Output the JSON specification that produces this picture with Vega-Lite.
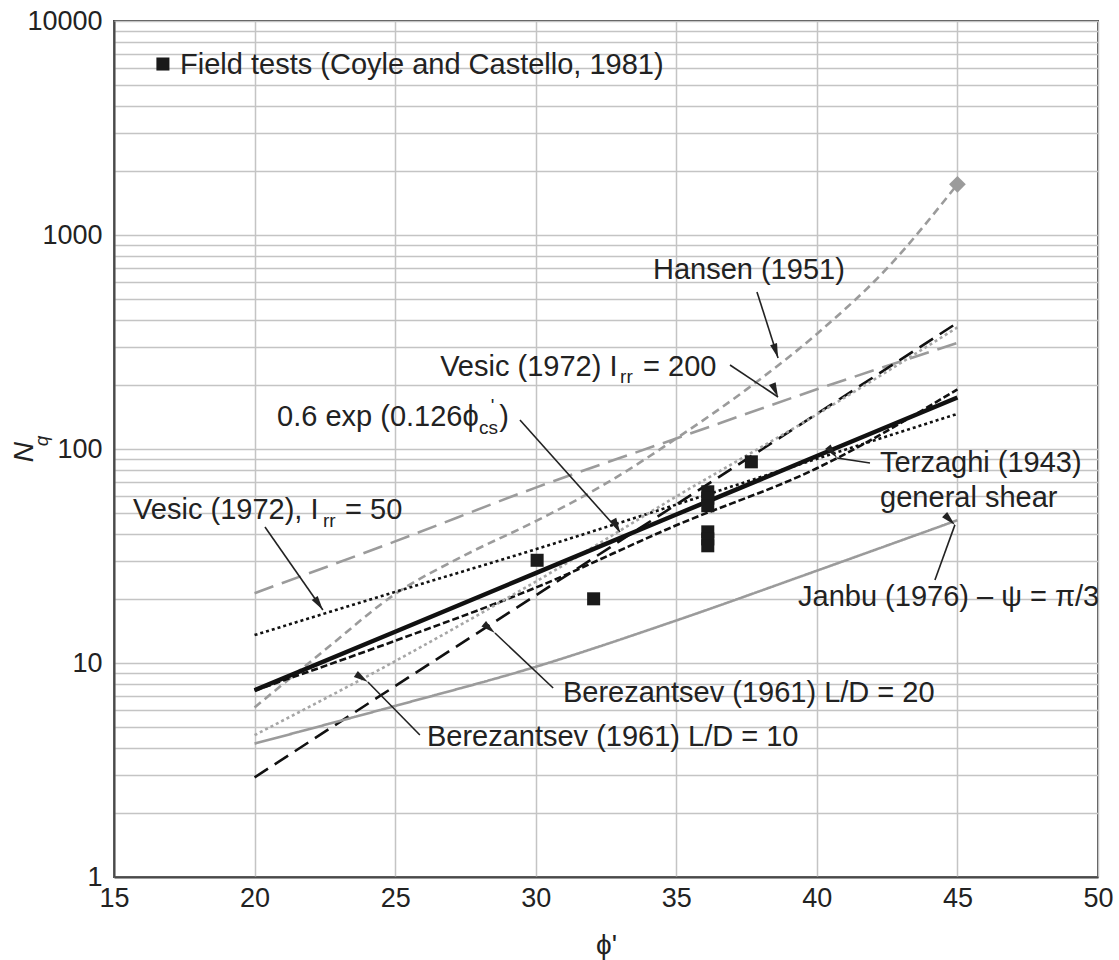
{
  "$schema": "https://vega.github.io/schema/vega-lite/v6.json",
  "width": 984,
  "height": 856,
  "autosize": {"type": "none"},
  "padding": {"left": 114, "top": 21, "right": 21, "bottom": 83},
  "background": "white",
  "config": {
    "view": {"stroke": "#4a4a4a", "strokeWidth": 2},
    "font": "Liberation Sans",
    "text": {"font": "Liberation Sans", "color": "#222222"}
  },
  "datasets": {
    "curves": [
      {"s": "Hansen", "phi": 20, "Nq": 6.2}, {"s": "Hansen", "phi": 22.5, "Nq": 11.5}, {"s": "Hansen", "phi": 25, "Nq": 21}, {"s": "Hansen", "phi": 27.5, "Nq": 32}, {"s": "Hansen", "phi": 30, "Nq": 46}, {"s": "Hansen", "phi": 32.5, "Nq": 69}, {"s": "Hansen", "phi": 35, "Nq": 112}, {"s": "Hansen", "phi": 37.5, "Nq": 190}, {"s": "Hansen", "phi": 40, "Nq": 345}, {"s": "Hansen", "phi": 42.5, "Nq": 700}, {"s": "Hansen", "phi": 45, "Nq": 1725},
      {"s": "Vesic200", "phi": 20, "Nq": 21.2}, {"s": "Vesic200", "phi": 25, "Nq": 37}, {"s": "Vesic200", "phi": 30, "Nq": 66}, {"s": "Vesic200", "phi": 35, "Nq": 112}, {"s": "Vesic200", "phi": 40, "Nq": 190}, {"s": "Vesic200", "phi": 45, "Nq": 313},
      {"s": "Vesic50", "phi": 20, "Nq": 13.5}, {"s": "Vesic50", "phi": 25, "Nq": 21.5}, {"s": "Vesic50", "phi": 30, "Nq": 34}, {"s": "Vesic50", "phi": 35, "Nq": 55}, {"s": "Vesic50", "phi": 40, "Nq": 90}, {"s": "Vesic50", "phi": 45, "Nq": 146},
      {"s": "Terzaghi", "phi": 20, "Nq": 7.44}, {"s": "Terzaghi", "phi": 25, "Nq": 12.7}, {"s": "Terzaghi", "phi": 30, "Nq": 22.5}, {"s": "Terzaghi", "phi": 35, "Nq": 44}, {"s": "Terzaghi", "phi": 40, "Nq": 81.3}, {"s": "Terzaghi", "phi": 45, "Nq": 190},
      {"s": "Berez20", "phi": 20, "Nq": 2.92}, {"s": "Berez20", "phi": 25, "Nq": 7.8}, {"s": "Berez20", "phi": 30, "Nq": 20.7}, {"s": "Berez20", "phi": 35, "Nq": 55}, {"s": "Berez20", "phi": 40, "Nq": 146}, {"s": "Berez20", "phi": 45, "Nq": 389},
      {"s": "Berez10", "phi": 20, "Nq": 4.6}, {"s": "Berez10", "phi": 25, "Nq": 10.2}, {"s": "Berez10", "phi": 30, "Nq": 24}, {"s": "Berez10", "phi": 35, "Nq": 60}, {"s": "Berez10", "phi": 40, "Nq": 145}, {"s": "Berez10", "phi": 45, "Nq": 370},
      {"s": "Janbu", "phi": 20, "Nq": 4.2}, {"s": "Janbu", "phi": 25, "Nq": 6.3}, {"s": "Janbu", "phi": 30, "Nq": 9.6}, {"s": "Janbu", "phi": 35, "Nq": 15.8}, {"s": "Janbu", "phi": 40, "Nq": 27}, {"s": "Janbu", "phi": 45, "Nq": 46.5}
    ],
    "expcurve": [
      {"phi": 20, "Nq": 7.46}, {"phi": 25, "Nq": 14.0}, {"phi": 30, "Nq": 26.3}, {"phi": 35, "Nq": 49.4}, {"phi": 40, "Nq": 92.7}, {"phi": 45, "Nq": 174.0}
    ],
    "hansenEnd": [{"phi": 45, "Nq": 1725}],
    "tests": [
      {"phi": 30.05, "Nq": 30.2}, {"phi": 32.06, "Nq": 19.95},
      {"phi": 36.12, "Nq": 63.1}, {"phi": 36.12, "Nq": 58.9}, {"phi": 36.12, "Nq": 54.3},
      {"phi": 36.12, "Nq": 41.0}, {"phi": 36.12, "Nq": 38.0}, {"phi": 36.12, "Nq": 35.3},
      {"phi": 37.67, "Nq": 87.1}
    ],
    "key": [{"phi": 16.74, "Nq": 6295}],
    "labels": [
      {"t": "Field tests (Coyle and Castello, 1981)", "phi": 17.35, "Nq": 6230, "part": "main"},
      {"t": "Hansen (1951)", "phi": 34.17, "Nq": 686, "part": "main"},
      {"t": "Vesic (1972) I", "phi": 26.6, "Nq": 241.6, "part": "main"},
      {"t": "rr", "phi": 33.0, "Nq": 216.9, "part": "sub"},
      {"t": "= 200", "phi": 33.82, "Nq": 241.6, "part": "main"},
      {"t": "0.6 exp (0.126ϕ", "phi": 20.8, "Nq": 141.1, "part": "main"},
      {"t": "'", "phi": 28.4, "Nq": 158, "part": "sub"},
      {"t": "cs", "phi": 27.98, "Nq": 125.4, "part": "sub"},
      {"t": ")", "phi": 28.7, "Nq": 141.1, "part": "main"},
      {"t": "Vesic (1972), I", "phi": 15.68, "Nq": 51.9, "part": "main"},
      {"t": "rr", "phi": 22.43, "Nq": 46.1, "part": "sub"},
      {"t": "= 50", "phi": 23.22, "Nq": 51.9, "part": "main"},
      {"t": "Terzaghi (1943)", "phi": 42.25, "Nq": 86.0, "part": "main"},
      {"t": "general shear", "phi": 42.25, "Nq": 59.0, "part": "main"},
      {"t": "Janbu (1976) – ψ = π/3", "phi": 39.33, "Nq": 20.34, "part": "main"},
      {"t": "Berezantsev (1961) L/D = 20", "phi": 30.97, "Nq": 7.24, "part": "main"},
      {"t": "Berezantsev (1961) L/D = 10", "phi": 26.13, "Nq": 4.51, "part": "main"}
    ],
    "ytitle": [
      {"t": "N", "phi": 11.83, "Nq": 96.8, "part": "main"},
      {"t": "q", "phi": 12.44, "Nq": 109.0, "part": "sub"}
    ],
    "arrows": [
      {"id": "A", "phi": 37.87, "Nq": 541.6, "phi2": 38.62, "Nq2": 266.2},
      {"id": "B", "phi": 36.91, "Nq": 246.9, "phi2": 38.62, "Nq2": 175.0},
      {"id": "C", "phi": 29.44, "Nq": 136.6, "phi2": 33.0, "Nq2": 40.9},
      {"id": "D", "phi": 20.37, "Nq": 43.2, "phi2": 22.43, "Nq2": 17.69},
      {"id": "E", "phi": 41.89, "Nq": 86.0, "phi2": 40.72, "Nq2": 90.8},
      {"id": "F", "phi": 44.2, "Nq": 24.4, "phi2": 44.91, "Nq2": 44.2},
      {"id": "G", "phi": 30.62, "Nq": 7.64, "phi2": 28.55, "Nq2": 13.81},
      {"id": "H", "phi": 25.88, "Nq": 4.61, "phi2": 24.03, "Nq2": 8.15}
    ]
  },
  "layer": [
    {
      "data": {"name": "curves"},
      "mark": {"type": "line", "interpolate": "monotone", "clip": true},
      "encoding": {
        "x": {
          "field": "phi", "type": "quantitative", "title": "ϕ'",
          "scale": {"type": "linear", "domain": [15, 50], "nice": false, "zero": false},
          "axis": {
            "values": [15, 20, 25, 30, 35, 40, 45, 50],
            "title": "ϕ'", "titleFontSize": 28, "titleFontWeight": "normal", "titleColor": "#222222", "titlePadding": 20, "titleFont": "Liberation Sans",
            "labelFontSize": 27, "labelColor": "#222222", "labelPadding": 8, "labelFont": "Liberation Sans",
            "ticks": false, "grid": true, "gridColor": "#c4c4c4", "gridWidth": 1.5,
            "domainColor": "#4a4a4a", "domainWidth": 2, "labelFlush": false, "labelOverlap": false
          }
        },
        "y": {
          "field": "Nq", "type": "quantitative", "title": null,
          "scale": {"type": "log", "domain": [1, 10000], "nice": false},
          "axis": {
            "values": [1, 2, 3, 4, 5, 6, 7, 8, 9, 10, 20, 30, 40, 50, 60, 70, 80, 90, 100, 200, 300, 400, 500, 600, 700, 800, 900, 1000, 2000, 3000, 4000, 5000, 6000, 7000, 8000, 9000, 10000],
            "format": "d",
            "labelExpr": "indexof([1, 10, 100, 1000, 10000], datum.value) >= 0 ? datum.label : ''",
            "title": null,
            "labelFontSize": 27, "labelColor": "#222222", "labelPadding": 12, "labelFont": "Liberation Sans",
            "ticks": false, "grid": true, "gridColor": "#c4c4c4", "gridWidth": 1.5,
            "domainColor": "#4a4a4a", "domainWidth": 2, "labelFlush": false, "labelOverlap": false
          }
        },
        "detail": {"field": "s"},
        "color": {
          "field": "s", "type": "nominal", "legend": null,
          "scale": {
            "domain": ["Hansen", "Vesic200", "Vesic50", "Terzaghi", "Berez20", "Berez10", "Janbu"],
            "range": ["#9b9b9b", "#9b9b9b", "#111111", "#111111", "#111111", "#a6a6a6", "#9b9b9b"]
          }
        },
        "strokeDash": {
          "field": "s", "type": "nominal", "legend": null,
          "scale": {
            "domain": ["Hansen", "Vesic200", "Vesic50", "Terzaghi", "Berez20", "Berez10", "Janbu"],
            "range": [[8, 5], [20, 9], [3, 3], [7, 3], [16, 8], [3, 3], [1, 0]]
          }
        },
        "strokeWidth": {
          "field": "s", "type": "ordinal", "legend": null,
          "scale": {
            "domain": ["Hansen", "Vesic200", "Vesic50", "Terzaghi", "Berez20", "Berez10", "Janbu"],
            "range": [2.6, 2.6, 3, 2.6, 2.8, 2.6, 2]
          }
        }
      }
    },
    {
      "data": {"name": "expcurve"},
      "mark": {"type": "line", "color": "#111111", "strokeWidth": 4.5, "clip": true},
      "encoding": {
        "x": {"field": "phi", "type": "quantitative", "title": "ϕ'"},
        "y": {"field": "Nq", "type": "quantitative", "title": null}
      }
    },
    {
      "data": {"name": "hansenEnd"},
      "mark": {"type": "point", "shape": "diamond", "filled": true, "color": "#9b9b9b", "size": 280, "opacity": 1},
      "encoding": {
        "x": {"field": "phi", "type": "quantitative", "title": "ϕ'"},
        "y": {"field": "Nq", "type": "quantitative", "title": null}
      }
    },
    {
      "data": {"name": "tests"},
      "mark": {"type": "point", "shape": "square", "filled": true, "color": "#1a1a1a", "size": 170, "opacity": 1},
      "encoding": {
        "x": {"field": "phi", "type": "quantitative", "title": "ϕ'"},
        "y": {"field": "Nq", "type": "quantitative", "title": null}
      }
    },
    {
      "data": {"name": "key"},
      "mark": {"type": "point", "shape": "square", "filled": true, "color": "#1a1a1a", "size": 170, "opacity": 1},
      "encoding": {
        "x": {"field": "phi", "type": "quantitative", "title": "ϕ'"},
        "y": {"field": "Nq", "type": "quantitative", "title": null}
      }
    },
    {
      "data": {"name": "arrows"},
      "mark": {"type": "rule", "color": "#222222", "strokeWidth": 1.6},
      "encoding": {
        "x": {"field": "phi", "type": "quantitative", "title": "ϕ'"},
        "y": {"field": "Nq", "type": "quantitative", "title": null},
        "x2": {"field": "phi2"},
        "y2": {"field": "Nq2"}
      }
    },
    {
      "data": {"name": "arrows"},
      "mark": {"type": "point", "shape": "M0,0L0.45,1.8L-0.45,1.8Z", "filled": true, "color": "#222222", "size": 260, "opacity": 1},
      "encoding": {
        "x": {"field": "phi2", "type": "quantitative", "title": "ϕ'"},
        "y": {"field": "Nq2", "type": "quantitative", "title": null},
        "angle": {
          "field": "id", "type": "ordinal", "legend": null,
          "scale": {"domain": ["A", "B", "C", "D", "E", "F", "G", "H"], "range": [162, 124, 138, 145, 279, 20, 314, 316]}
        }
      }
    },
    {
      "data": {"name": "labels"},
      "transform": [{"filter": "datum.part == 'main'"}],
      "mark": {"type": "text", "align": "left", "baseline": "middle", "fontSize": 29, "color": "#222222"},
      "encoding": {
        "x": {"field": "phi", "type": "quantitative", "title": "ϕ'"},
        "y": {"field": "Nq", "type": "quantitative", "title": null},
        "text": {"field": "t"}
      }
    },
    {
      "data": {"name": "labels"},
      "transform": [{"filter": "datum.part == 'sub'"}],
      "mark": {"type": "text", "align": "left", "baseline": "middle", "fontSize": 19, "color": "#222222"},
      "encoding": {
        "x": {"field": "phi", "type": "quantitative", "title": "ϕ'"},
        "y": {"field": "Nq", "type": "quantitative", "title": null},
        "text": {"field": "t"}
      }
    },
    {
      "data": {"name": "ytitle"},
      "transform": [{"filter": "datum.part == 'main'"}],
      "mark": {"type": "text", "align": "center", "baseline": "middle", "fontSize": 28, "fontStyle": "italic", "angle": 270, "color": "#222222"},
      "encoding": {
        "x": {"field": "phi", "type": "quantitative", "title": "ϕ'"},
        "y": {"field": "Nq", "type": "quantitative", "title": null},
        "text": {"field": "t"}
      }
    },
    {
      "data": {"name": "ytitle"},
      "transform": [{"filter": "datum.part == 'sub'"}],
      "mark": {"type": "text", "align": "center", "baseline": "middle", "fontSize": 19, "fontStyle": "italic", "angle": 270, "color": "#222222"},
      "encoding": {
        "x": {"field": "phi", "type": "quantitative", "title": "ϕ'"},
        "y": {"field": "Nq", "type": "quantitative", "title": null},
        "text": {"field": "t"}
      }
    }
  ]
}
